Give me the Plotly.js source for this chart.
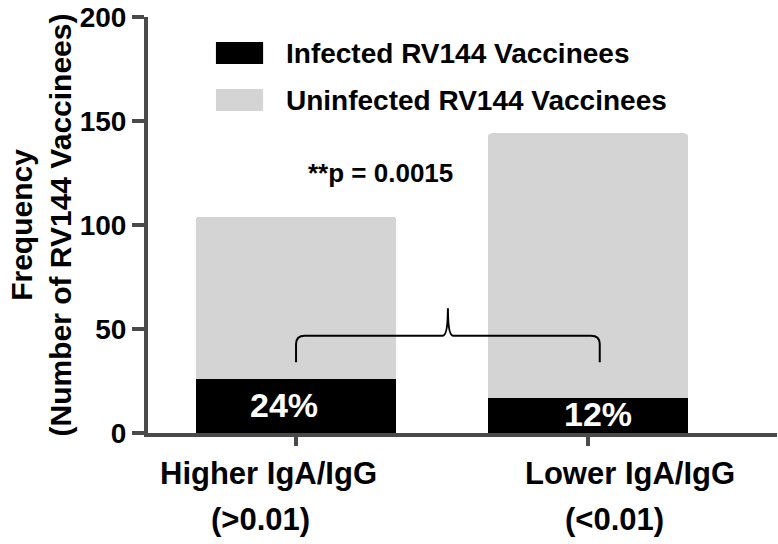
<!DOCTYPE html>
<html>
<head>
<meta charset="utf-8">
<script src="https://cdn.plot.ly/plotly-3.0.1.min.js"></script>
<style>html,body{margin:0;padding:0;background:#fff;}</style>
</head>
<body>
<div id="chart" style="width:778px;height:544px;"></div>
<script>
// ---- data ----
const catLine1 = ['Higher IgA/IgG', 'Lower IgA/IgG'];
const catLine2 = ['(>0.01)', '(<0.01)'];
const infected = [26, 17];
const uninfected = [78, 127];
const pctLabels = ['24%', '12%'];
const seriesNames = ['Infected RV144 Vaccinees', 'Uninfected RV144 Vaccinees'];
const pText = '**p = 0.0015';
const yTicks = [0, 50, 100, 150, 200];

const FONT = '"Liberation Sans", Arial, sans-serif';
const AXC = '#4a4a4a';
const xIdx = catLine1.map((_, i) => i);

const traces = [
  {type: 'bar', x: xIdx, y: infected, name: seriesNames[0], marker: {color: '#000000'}, width: 0.685, hoverinfo: 'skip'},
  {type: 'bar', x: xIdx, y: uninfected, name: seriesNames[1], marker: {color: '#d4d4d4'}, width: 0.685, hoverinfo: 'skip'}
];

const annotations = [];
const l1shift = [-28, 42], l2shift = [-36, 26];
xIdx.forEach(i => {
  annotations.push({x: i, xref: 'x', y: 0, yref: 'paper', yanchor: 'middle', yshift: -40, xshift: l1shift[i],
    text: catLine1[i], showarrow: false, font: {family: FONT, size: 31, color: '#000', weight: 700}});
  annotations.push({x: i, xref: 'x', y: 0, yref: 'paper', yanchor: 'middle', yshift: -86, xshift: l2shift[i],
    text: catLine2[i], showarrow: false, font: {family: FONT, size: 31, color: '#000', weight: 700}});
});
const pShift = [-12, 10];
xIdx.forEach(i => {
  annotations.push({x: i, xref: 'x', y: infected[i] / 2, yref: 'y', yanchor: 'middle', xshift: pShift[i], yshift: 1,
    text: pctLabels[i], showarrow: false, font: {family: FONT, size: 34, color: '#fff', weight: 700}});
});
annotations.push({x: 0.370, y: 0.625, xref: 'paper', yref: 'paper', text: pText, showarrow: false,
  font: {family: FONT, size: 26, color: '#000', weight: 700}});
// manual legend text
annotations.push({x: 0.216, y: 0.913, xref: 'paper', yref: 'paper', xanchor: 'left', yanchor: 'middle', text: seriesNames[0], showarrow: false,
  font: {family: FONT, size: 28, color: '#000', weight: 700}});
annotations.push({x: 0.216, y: 0.800, xref: 'paper', yref: 'paper', xanchor: 'left', yanchor: 'middle', text: seriesNames[1], showarrow: false,
  font: {family: FONT, size: 28, color: '#000', weight: 700}});

// bracket between the two groups
const bx0 = 0, bx1 = 1.04, bm = (bx0 + bx1) / 2;
const yLeg = 34, yArm = 46.8, yPeak = 60;
const bracketPath = `M ${bx0},${yLeg} L ${bx0},${yArm - 4} Q ${bx0},${yArm} ${bx0 + 0.03},${yArm} ` +
  `L ${bm - 0.018},${yArm} Q ${bm},${yArm} ${bm},${yPeak} Q ${bm},${yArm} ${bm + 0.018},${yArm} ` +
  `L ${bx1 - 0.03},${yArm} Q ${bx1},${yArm} ${bx1},${yArm - 4} L ${bx1},${yLeg}`;

const shapes = [
  {type: 'path', xref: 'x', yref: 'y', path: bracketPath, line: {color: '#000', width: 2}},
  {type: 'rect', xref: 'paper', yref: 'paper', x0: 0.108, x1: 0.183, y0: 0.887, y1: 0.940, fillcolor: '#000', line: {width: 0}},
  {type: 'rect', xref: 'paper', yref: 'paper', x0: 0.108, x1: 0.183, y0: 0.774, y1: 0.827, fillcolor: '#d4d4d4', line: {width: 0}}
];

const layout = {
  width: 778, height: 544,
  margin: {l: 148, r: 1, t: 17, b: 111, pad: 0},
  paper_bgcolor: '#fff', plot_bgcolor: '#fff',
  barmode: 'stack', barcornerradius: 3,
  showlegend: false,
  font: {family: FONT, color: '#000'},
  xaxis: {
    type: 'linear', range: [-0.507, 1.647], tickvals: xIdx, ticktext: xIdx.map(() => ''),
    showgrid: false, zeroline: false, showline: true, linecolor: AXC, linewidth: 4,
    ticks: 'outside', ticklen: 9, tickwidth: 4, tickcolor: AXC, fixedrange: true
  },
  yaxis: {
    range: [0, 200], tickvals: yTicks, ticktext: yTicks.map(String),
    showgrid: false, zeroline: false, showline: true, linecolor: AXC, linewidth: 4,
    ticks: 'outside', ticklen: 12, tickwidth: 4, tickcolor: AXC,
    tickfont: {family: FONT, size: 28, color: '#000', weight: 700},
    title: {text: 'Frequency<br>(Number of RV144 Vaccinees)', standoff: 0,
      font: {family: FONT, size: 30, color: '#000', weight: 700}},
    fixedrange: true
  },
  annotations: annotations,
  shapes: shapes
};

Plotly.newPlot('chart', traces, layout, {displayModeBar: false, staticPlot: true});
</script>
</body>
</html>
